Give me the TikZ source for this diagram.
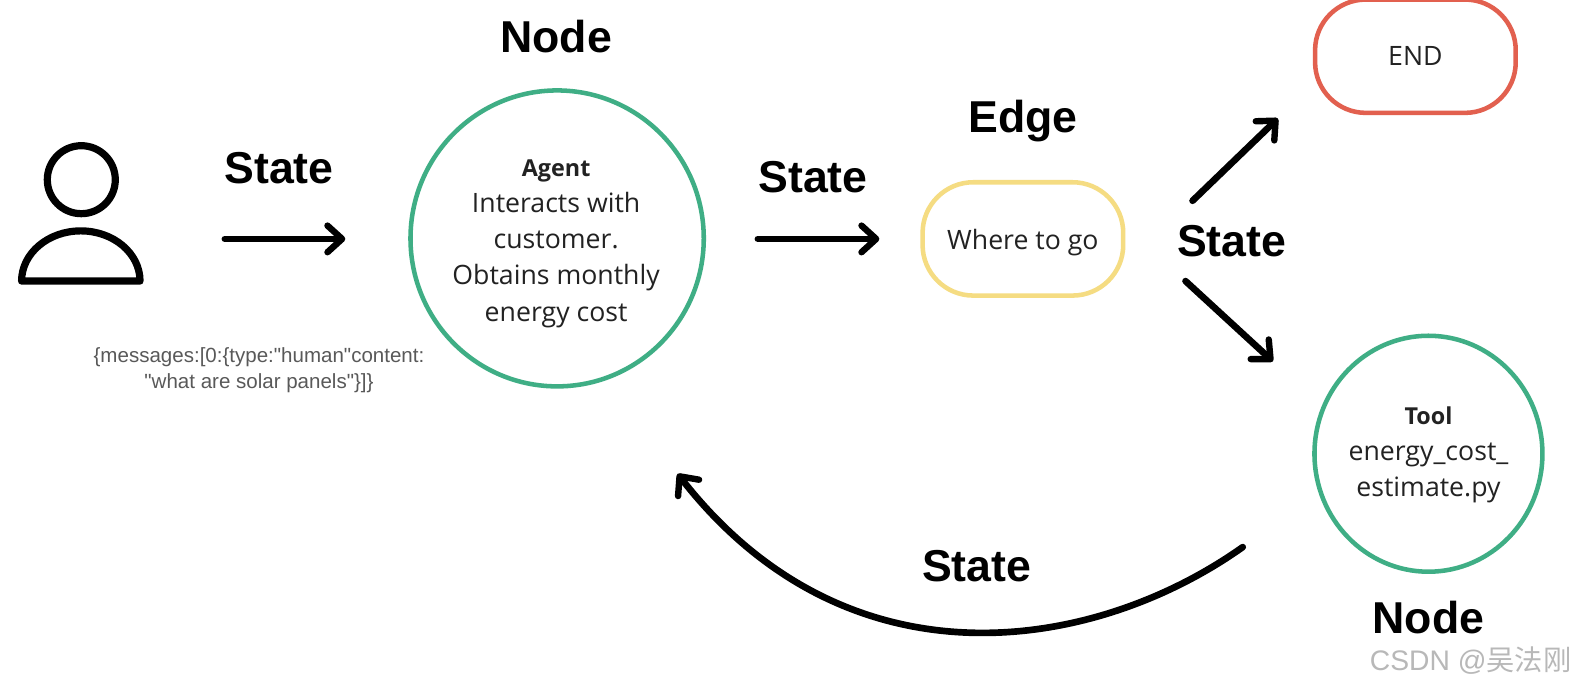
\documentclass[tikz,border=0pt]{standalone}
\usepackage{fontspec}
\setmainfont{Open Sans}
\newfontfamily\headfont{Liberation Sans}
\newfontfamily\msgfont{Liberation Sans}
\newfontfamily\cjk{Noto Sans CJK SC}
\usetikzlibrary{arrows.meta,shapes.geometric}
\definecolor{gr}{HTML}{3FAE85}
\definecolor{yl}{HTML}{F5DC82}
\definecolor{rd}{HTML}{E2604F}
\definecolor{tx}{HTML}{222222}
\newcommand{\fs}[2]{\fontsize{#1}{#2}\selectfont}
\tikzset{
 x=0.753pt,y=-0.753pt,
 flow/.style={line width=5pt,black,line cap=round,-{Straight Barb[round,length=11pt,width=20pt,line width=4.8pt]}},
 head/.style={font=\headfont\fs{33.5}{34}\bfseries,text=black,inner sep=0pt},
 body/.style={font=\fs{20}{27.2},text=tx,align=center,inner sep=0pt},
 ring/.style={ellipse,draw=gr,line width=3.4pt,inner sep=0pt},
 pill/.style={rounded corners=38pt,line width=3.4pt,minimum width=150.5pt,minimum height=85pt,body}
}
\begin{document}
\begin{tikzpicture}
\useasboundingbox (0,0) rectangle (1568,681.4);
\fill[white] (0,0) rectangle (1568,681.4);
% person
\node (personhead) at (81,179) [circle,draw=black,line width=5.4pt,minimum size=51pt,inner sep=0pt] {};
\draw[line width=5.4pt,line join=round] (21.5,280) arc[start angle=180,end angle=360,x radius=59,y radius=50] -- cycle;
\node (msg) at (258,369) [align=center,font=\msgfont\fs{15.4}{19.5},text=black!65,inner sep=0pt] {\{messages:[0:\{type:"human"content:\\"what are solar panels"\}]\}};
\node (s1) at (278,167) [head] {State};
\node (nodeA) at (554,36) [head] {Node};
\node (agent) at (555,237.5) [ring,minimum width=220pt,minimum height=222pt] {};
\node (agentT) at (554,242.5) [body] {\textbf{\fs{17.5}{27.2}Agent}\\Interacts with\\customer.\\Obtains monthly\\energy cost};
\node (s2) at (810,176) [head] {State};
\node (edgeL) at (1019,121) [head] {Edge};
\node (edge) at (1019,238) [pill,draw=yl,text depth=0pt] {Where to go};
\node (s3) at (1227,240) [head] {State};
\node (end) at (1410,56) [pill,draw=rd] {END};
\node (tool) at (1423,452) [ring,minimum width=171pt,minimum height=177pt] {};
\node (toolT) at (1423,453) [body] {\textbf{\fs{17.5}{27.2}Tool}\\energy\_cost\_\\estimate.py};
\node (s4) at (973,564) [head] {State};
\node (nodeB) at (1423,615) [head] {Node};
\node (wm) at (1465,658) [font=\headfont\fs{21.2}{24},text=black!28,inner sep=0pt] {CSDN @{\cjk 吴法刚}};
\coordinate (a1) at (224,238); \coordinate (a2) at (344,238);
\coordinate (b1) at (755,238); \coordinate (b2) at (876,238);
\coordinate (c1) at (1188,200); \coordinate (c2) at (1273,118);
\coordinate (d1) at (1181,280); \coordinate (d2) at (1268,360);
\coordinate (e1) at (1238,545); \coordinate (e2) at (675,472);
\draw[flow] (a1) -- (a2);
\draw[flow] (b1) -- (b2);
\draw[flow] (c1) -- (c2);
\draw[flow] (d1) -- (d2);
\draw[flow] (e1) .. controls (1090,650) and (845,690) .. (e2);
\end{tikzpicture}
\end{document}
